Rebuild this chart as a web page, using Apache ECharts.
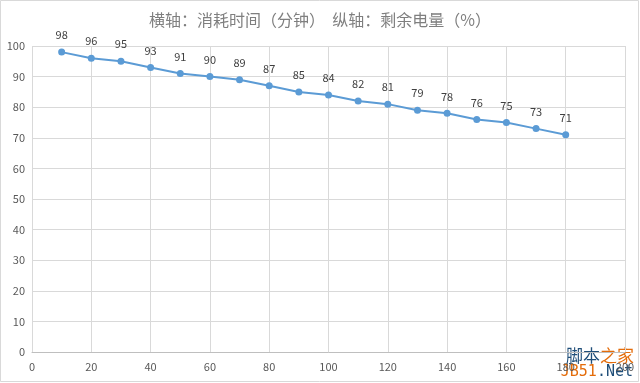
<!DOCTYPE html>
<html><head><meta charset="utf-8">
<script src="https://cdn.jsdelivr.net/npm/echarts@6/dist/echarts.min.js"></script>
<style>html,body{margin:0;padding:0;background:#fff}#c{width:640px;height:383px}</style>
</head><body><div id="c"></div>
<script>
const titleText = '横轴：消耗时间（分钟）  纵轴：剩余电量（%）';
const minutes = [10,20,30,40,50,60,70,80,90,100,110,120,130,140,150,160,170,180];
const battery = [98,96,95,93,91,90,89,87,85,84,82,81,79,78,76,75,73,71];
const data = minutes.map((m,i)=>[m,battery[i]]);
const chart = echarts.init(document.getElementById('c'));
const font = '"Microsoft YaHei","Noto Sans CJK SC",sans-serif';
chart.setOption({
  animation:false,
  backgroundColor:'#fff',
  title:{text:titleText,left:'center',top:7,textStyle:{color:'#7f7f7f',fontSize:16,fontWeight:'normal',fontFamily:font}},
  grid:{left:32,right:15,top:46,bottom:31},
  xAxis:{type:'value',min:0,max:200,interval:20,
    axisLine:{show:true,lineStyle:{color:'#bfbfbf'}},axisTick:{show:false},
    splitLine:{show:true,lineStyle:{color:'#d9d9d9'}},
    axisLabel:{color:'#595959',fontSize:11,margin:9,fontFamily:font}},
  yAxis:{type:'value',min:0,max:100,interval:10,
    axisLine:{show:false},axisTick:{show:false},
    splitLine:{show:true,lineStyle:{color:'#d9d9d9'}},
    axisLabel:{color:'#595959',fontSize:11,margin:7,fontFamily:font}},
  series:[{type:'line',data:data,symbol:'circle',symbolSize:7,
    itemStyle:{color:'#5b9bd5'},lineStyle:{color:'#5b9bd5',width:2},
    label:{show:true,position:'top',distance:8,color:'#404040',fontSize:11,fontFamily:font,formatter:p=>p.value[1]}}],
  graphic:[
    {type:'rect',shape:{x:0.5,y:0.5,width:638,height:381},style:{fill:'none',stroke:'#d9d9d9',lineWidth:1},silent:true},
    {type:'text',right:6,bottom:19,style:{text:'{a|脚本}{b|之家}',rich:{a:{fill:'#1f4e79',fontSize:17,fontFamily:font},b:{fill:'#e46c0a',fontSize:17,fontFamily:font}}}},
    {type:'text',right:7,bottom:3,style:{text:'{b|JB51}{a|.Net}',rich:{a:{fill:'#1f4e79',fontSize:15,fontFamily:'"DejaVu Sans Mono",monospace'},b:{fill:'#e46c0a',fontSize:15,fontFamily:'"DejaVu Sans Mono",monospace'}}}}
  ]
});
</script></body></html>
